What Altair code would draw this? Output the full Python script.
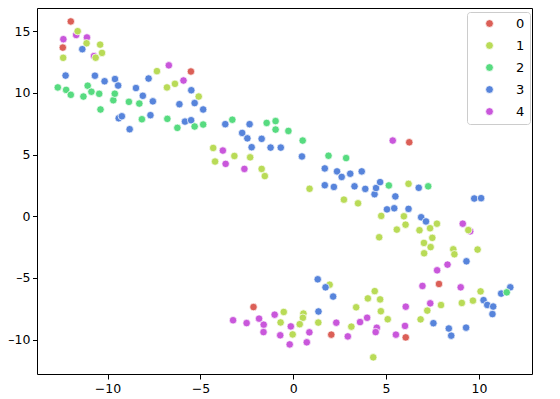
import altair as alt
import pandas as pd

# category labels and colours
categories = ["0", "1", "2", "3", "4"]
palette = ["#db5f57", "#b9db57", "#57db80", "#5784db", "#c957db"]

# category 0
x0 = [-11.98, -12.41, -5.51, 6.25, -2.14, 2.05, 7.85, 6.06]
y0 = [15.80, 13.68, 11.74, 6.00, -7.36, -9.60, -5.49, -9.82]

# category 1
x1 = [-11.61, -11.13, -10.40, -10.30, -10.64, -12.39, -7.34, -6.80, -6.37, -5.09,
      -4.31, -4.21, -3.17, -2.32, -1.70, -1.53, 0.88, 2.73, 3.49, 6.21,
      4.74, 5.96, 5.58, 6.05, 4.63, 6.80, 7.37, 7.74, 7.49, 7.04,
      7.40, 7.05, 8.62, 8.68, 9.43, 9.93, 4.39, 4.02, 4.68, 3.39,
      4.72, 5.09, 3.13, 1.96, 1.35, 0.55, 0.52, 0.35, -0.03, -0.51,
      -0.68, 4.31, 6.86, 7.22, 7.96, 9.08, 9.68, 10.09]
y1 = [15.01, 14.03, 13.92, 13.25, 12.86, 12.85, 11.77, 10.45, 10.74, 9.71,
      5.54, 4.44, 4.89, 4.78, 3.84, 3.26, 2.23, 1.35, 1.05, 2.63,
      0.03, 0.00, -1.08, -0.68, -1.70, -1.13, -0.97, -0.60, -1.75, -2.16,
      -2.50, -3.00, -2.68, -3.08, -1.12, -2.70, -6.07, -6.66, -6.74, -7.38,
      -7.70, -8.35, -8.95, -5.55, -8.62, -7.89, -8.23, -8.75, -9.58, -7.76,
      -8.61, -11.44, -8.36, -7.65, -7.20, -7.03, -6.84, -6.09]

# category 2
x2 = [-12.68, -12.23, -11.98, -11.30, -11.07, -10.87, -10.45, -10.38, -9.69, -9.61,
      -8.85, -8.29, -8.15, -6.78, -6.24, -5.31, -4.85, -3.28, -1.43, -0.95,
      -0.95, -0.26, 0.51, 1.90, 2.85, 5.15, 7.27, 11.50]
y2 = [10.45, 10.25, 9.85, 9.71, 10.59, 10.10, 9.93, 8.66, 9.41, 9.94,
      9.28, 9.14, 7.87, 7.90, 7.17, 7.28, 7.44, 7.83, 7.57, 7.72,
      7.03, 6.92, 6.14, 4.91, 4.72, 2.50, 2.43, -6.17]

# category 3
x3 = [-12.26, -11.36, -10.68, -10.16, -9.60, -9.43, -9.40, -9.23, -8.81, -8.47,
      -8.10, -7.79, -7.69, -7.56, -6.13, -5.83, -5.50, -5.49, -5.31, -4.85,
      -3.66, -2.75, -2.47, -2.35, -2.24, -1.70, -1.22, -0.67, 0.47, 1.70,
      1.70, 2.19, 2.36, 2.61, 3.07, 3.30, 3.69, 3.88, 4.38, 4.46,
      4.68, 5.05, 5.44, 5.50, 6.21, 6.76, 6.89, 7.15, 9.75, 10.12,
      9.33, 1.32, 1.74, 2.15, 1.36, 7.55, 8.38, 8.51, 9.31, 10.25,
      10.45, 10.73, 10.77, 11.20, 11.69]
y3 = [11.41, 13.55, 11.40, 10.95, 11.13, 10.60, 7.95, 8.11, 7.06, 10.40,
      9.77, 11.17, 8.20, 9.32, 9.09, 7.68, 7.79, 10.22, 9.18, 8.66,
      7.47, 6.76, 6.32, 7.47, 5.60, 6.28, 5.57, 5.57, 4.85, 3.88,
      2.52, 2.38, 3.64, 3.19, 3.45, 2.43, 3.64, 2.22, 1.79, 2.29,
      2.77, 0.56, 0.65, 1.61, 0.60, 2.31, -0.08, -0.42, 1.44, 1.47,
      -3.65, -5.11, -5.76, -6.51, -7.72, -8.67, -9.10, -9.68, -9.03, -6.80,
      -7.19, -7.93, -7.32, -6.27, -5.76]

# category 4
x4 = [-12.38, -11.69, -11.11, -10.73, -6.70, -5.91, -3.79, -3.64, -2.63, 5.36,
      9.13, 9.53, 8.31, 7.75, 6.96, 9.02, 7.38, 6.06, 6.02, 5.53,
      4.50, 4.44, 3.98, 3.60, 2.94, 2.32, 0.87, 0.73, -0.13, -0.19,
      -0.70, -1.00, -1.59, -1.60, -1.84, -2.51, -3.24]
y4 = [14.36, 14.70, 14.50, 12.99, 12.24, 11.01, 5.33, 4.25, 3.84, 6.14,
      -0.60, -1.22, -3.92, -4.38, -5.65, -5.76, -7.06, -7.33, -8.89, -9.60,
      -9.04, -9.39, -8.23, -8.58, -9.74, -8.63, -9.41, -10.22, -8.93, -10.39,
      -9.65, -7.98, -8.79, -9.39, -8.30, -8.66, -8.43]

# axis ticks
x_ticks = [-10, -5, 0, 5, 10]
y_ticks = [-10, -5, 0, 5, 10, 15]

# drawing order (later rows drawn on top)
series = [("4", x4, y4), ("1", x1, y1), ("3", x3, y3), ("2", x2, y2), ("0", x0, y0)]
rows = []
for cat, xs, ys in series:
    for a, b in zip(xs, ys):
        rows.append({"x": a, "y": b, "cat": cat})
df = pd.DataFrame(rows)

FONT = "DejaVu Sans"

chart = alt.Chart(df).mark_circle(
    size=56, opacity=1, stroke="white", strokeWidth=0.7
).encode(
    x=alt.X("x:Q",
            scale=alt.Scale(domain=[-13.80, 12.86], nice=False, zero=False),
            axis=alt.Axis(values=x_ticks, title=None, grid=False, domain=False,
                          tickSize=5, tickColor="black", tickWidth=1,
                          labelPadding=3, labelFont=FONT, labelFontSize=12.5,
                          labelColor="black")),
    y=alt.Y("y:Q",
            scale=alt.Scale(domain=[-12.79, 16.89], nice=False, zero=False),
            axis=alt.Axis(values=y_ticks, title=None, grid=False, domain=False,
                          tickSize=4.5, tickColor="black", tickWidth=1,
                          labelPadding=2.5, labelFont=FONT, labelFontSize=12.5,
                          labelExpr="replace(datum.label, '\u2212', '\u2013')",
                          labelColor="black")),
    color=alt.Color("cat:N",
                    scale=alt.Scale(domain=categories, range=palette),
                    legend=alt.Legend(
                        title=None, orient="none", legendX=430, legendY=4,
                        fillColor="white", strokeColor="#cccccc",
                        cornerRadius=3, padding=5,
                        symbolType="circle", symbolSize=60,
                        symbolOpacity=1,
                        symbolStrokeColor="white", symbolStrokeWidth=0.7,
                        symbolOffset=11, labelOffset=20,
                        rowPadding=8, labelFont=FONT, labelFontSize=13,
                        labelColor="black")),
    order=alt.value(0),
).properties(
    width=495,
    height=366,
    autosize=alt.AutoSizeParams(type="none"),
    padding={"left": 29, "top": 0, "right": 10, "bottom": 25},
).configure_view(
    stroke="black", strokeWidth=1
)

chart.save("out.html", embed_options={"renderer": "svg", "actions": False})
